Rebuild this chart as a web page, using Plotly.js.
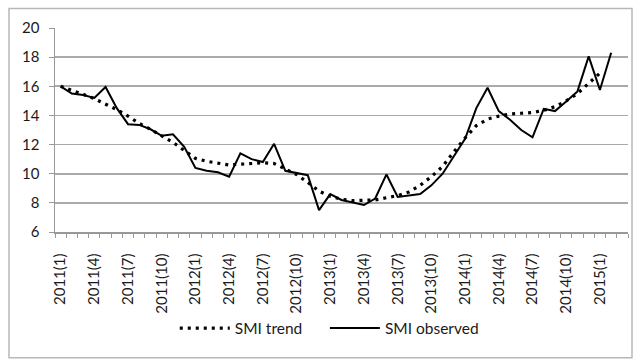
<!DOCTYPE html>
<html>
<head>
<meta charset="utf-8">
<script src="https://cdn.plot.ly/plotly-3.0.1.min.js"></script>
<style>
html,body{margin:0;padding:0;background:#fff;}
#chart{width:636px;height:360px;}
</style>
</head>
<body>
<div id="chart"></div>
<script>
// Months 2011(1) .. 2015(3)
const categories = [
  "2011(1)","2011(2)","2011(3)","2011(4)","2011(5)","2011(6)","2011(7)","2011(8)","2011(9)","2011(10)","2011(11)","2011(12)",
  "2012(1)","2012(2)","2012(3)","2012(4)","2012(5)","2012(6)","2012(7)","2012(8)","2012(9)","2012(10)","2012(11)","2012(12)",
  "2013(1)","2013(2)","2013(3)","2013(4)","2013(5)","2013(6)","2013(7)","2013(8)","2013(9)","2013(10)","2013(11)","2013(12)",
  "2014(1)","2014(2)","2014(3)","2014(4)","2014(5)","2014(6)","2014(7)","2014(8)","2014(9)","2014(10)","2014(11)","2014(12)",
  "2015(1)","2015(2)","2015(3)"
];

const smiTrend = [
  16.0, 15.75, 15.45, 15.15, 14.8, 14.4, 13.95, 13.45, 13.05, 12.6, 12.15, 11.6,
  11.05, 10.85, 10.7, 10.6, 10.65, 10.7, 10.75, 10.7, 10.3, 9.95, 9.4, 8.8,
  8.45, 8.25, 8.15, 8.15, 8.2, 8.35, 8.5, 8.75, 9.2, 9.8, 10.5, 11.5,
  12.45, 13.3, 13.75, 13.95, 14.1, 14.15, 14.2, 14.35, 14.6, 15.0, 15.5, 16.2,
  16.9, null, null
];

const smiObserved = [
  16.0, 15.5, 15.4, 15.2, 15.95, 14.5, 13.4, 13.35, 13.05, 12.6, 12.7, 11.85,
  10.4, 10.2, 10.1, 9.8, 11.4, 11.0, 10.8, 12.05, 10.2, 10.05, 9.9, 7.5,
  8.6, 8.2, 8.05, 7.85, 8.3, 9.95, 8.4, 8.5, 8.6, 9.2, 10.0, 11.2,
  12.4, 14.5, 15.9, 14.3, 13.7, 13.0, 12.5, 14.45, 14.3, 14.95, 15.65, 18.05,
  15.75, 18.3, null
];

const labelMonths = ["(1)","(4)","(7)","(10)"];
const tickText = categories.map(c => labelMonths.some(m => c.endsWith(m)) ? c : "");

const yTicks = [6, 8, 10, 12, 14, 16, 18, 20];

const FONT = "Lato, 'Open Sans', sans-serif";
const TXT = "#1a1a1a";

const traces = [
  {
    x: categories, y: smiTrend, name: "SMI trend", type: "scatter", mode: "lines",
    line: {color: "#000000", width: 3.2, dash: "3px,5px"},
    connectgaps: false, legend: "legend"
  },
  {
    x: categories, y: smiObserved, name: "SMI observed", type: "scatter", mode: "lines",
    line: {color: "#000000", width: 2},
    connectgaps: false, legend: "legend2"
  }
];

const legendBase = {
  orientation: "h", xanchor: "left", y: -0.473, yanchor: "middle",
  font: {family: FONT, size: 15.5, color: TXT},
  itemwidth: 50, bgcolor: "rgba(0,0,0,0)"
};

const layout = {
  width: 636, height: 360,
  margin: {l: 55, r: 8, t: 28, b: 128},
  paper_bgcolor: "#ffffff", plot_bgcolor: "#ffffff",
  font: {family: FONT, size: 15, color: TXT},
  showlegend: true,
  legend: Object.assign({}, legendBase, {x: 0.209}),
  legend2: Object.assign({}, legendBase, {x: 0.471}),
  xaxis: {
    type: "category", categoryorder: "array", categoryarray: categories,
    range: [-0.5, categories.length - 0.5],
    tickmode: "array", tickvals: categories, ticktext: tickText,
    tickson: "boundaries",
    tickangle: -90, ticks: "outside", ticklen: 4, tickcolor: "#999999", tickwidth: 1,
    ticklabelstandoff: 14,
    showline: true, linecolor: "#999999", linewidth: 1.5,
    showgrid: false, zeroline: false,
    tickfont: {family: FONT, size: 15, color: TXT},
    fixedrange: true
  },
  yaxis: {
    range: [6, 20], tickmode: "array", tickvals: yTicks,
    ticks: "outside", ticklen: 5, tickcolor: "#999999", tickwidth: 1,
    ticklabelstandoff: 6,
    showline: true, linecolor: "#999999", linewidth: 1.5,
    showgrid: true, gridcolor: "#aaaaaa", gridwidth: 1.6,
    zeroline: false,
    tickfont: {family: FONT, size: 15, color: TXT},
    fixedrange: true
  },
  shapes: [{
    type: "rect", xref: "paper", yref: "paper",
    x0: -0.0803, x1: 1.0070, y0: -0.616, y1: 1.095,
    line: {color: "#b8b8b8", width: 1.5}, fillcolor: "rgba(0,0,0,0)", layer: "below"
  }]
};

Plotly.newPlot("chart", traces, layout, {displayModeBar: false, staticPlot: true});
</script>
</body>
</html>
